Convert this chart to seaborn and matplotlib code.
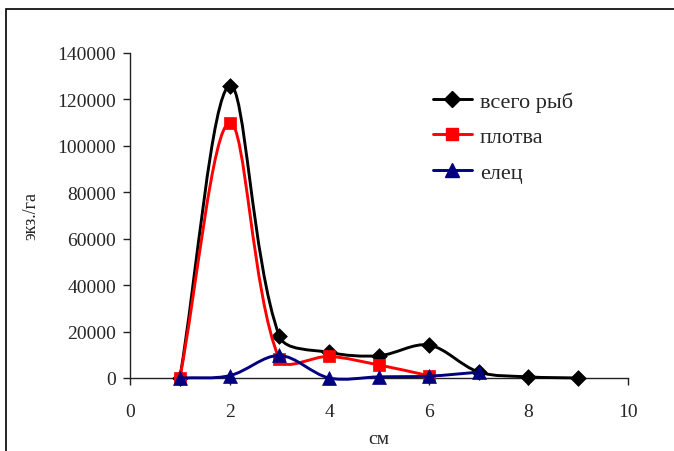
import matplotlib
matplotlib.use("Agg")
import matplotlib.pyplot as plt
from matplotlib.path import Path
from matplotlib.patches import PathPatch, Rectangle
from matplotlib.lines import Line2D
import seaborn as sns
import numpy as np

# size classes, cm
x_total = [1, 2, 3, 4, 5, 6, 7, 8, 9]
total = [0, 126000, 18000, 11000, 9600, 14200, 2600, 500, 0]     # всего рыб

x_roach = [1, 2, 3, 4, 5, 6]
roach = [0, 110000, 8000, 9300, 5600, 1000]                      # плотва

x_dace = [1, 2, 3, 4, 5, 6, 7]
dace = [0, 1000, 9700, 0, 500, 800, 2500]                        # елец

labels = ["всего рыб", "плотва", "елец"]
colors = ["#000000", "#ff0000", "#000080"]
markers = ["D", "s", "^"]

XMAX, YMAX = 10, 140000
AX_W, AX_H = 498, 325   # axes size in px, used to smooth in screen space


def smooth_path(x, y):
    # excel-like smoothed line: cubic bezier, tangents scaled by segment length
    pts = np.column_stack([np.asarray(x) / XMAX * AX_W,
                           np.asarray(y) / YMAX * AX_H]).astype(float)
    n = len(pts)
    d = [np.linalg.norm(pts[i + 1] - pts[i]) for i in range(n - 1)]
    verts = [pts[0]]
    codes = [Path.MOVETO]
    for i in range(n - 1):
        p1, p2 = pts[i], pts[i + 1]
        if i > 0:
            c1 = p1 + (p2 - pts[i - 1]) * d[i] / (d[i - 1] + d[i]) / 3
        else:
            c1 = p1 + (p2 - p1) / 3
        if i + 2 < n:
            c2 = p2 - (pts[i + 2] - p1) * d[i] / (d[i] + d[i + 1]) / 3
        else:
            c2 = p2 - (p2 - p1) / 3
        verts += [c1, c2, p2]
        codes += [Path.CURVE4] * 3
    v = np.array(verts)
    v[:, 0] *= XMAX / AX_W
    v[:, 1] *= YMAX / AX_H
    return Path(v, codes)


sns.set_style("ticks")
plt.rcParams["font.family"] = ["Liberation Serif", "DejaVu Serif"]

fig = plt.figure(figsize=(6.74, 4.52), dpi=100)
ax = fig.add_axes([130 / 674, 1 - 379 / 452, AX_W / 674, AX_H / 452])

series = [(x_total, total), (x_roach, roach), (x_dace, dace)]
sizes = [8, 9, 10]
for k, (xs, ys) in enumerate(series):
    ax.add_patch(PathPatch(smooth_path(xs, ys), facecolor="none",
                           edgecolor=colors[k], lw=2.1, zorder=3 + k,
                           clip_on=False))
    sns.scatterplot(x=xs, y=ys, ax=ax, marker=markers[k], s=sizes[k] ** 2,
                    color=colors[k], edgecolor=colors[k], linewidth=0.5,
                    zorder=3.5 + k, clip_on=False, legend=False)

ax.set_xlim(0, XMAX)
ax.set_ylim(0, YMAX)
ax.set_xticks(range(0, 11, 2))
ax.set_yticks(range(0, 140001, 20000))
ax.tick_params(axis="both", labelsize=14, direction="out", length=5,
               width=1, color="#222222", pad=5)
ax.tick_params(axis="x", pad=13)
sns.despine(ax=ax)
for s in ("left", "bottom"):
    ax.spines[s].set_color("#222222")
    ax.spines[s].set_linewidth(1)

ax.set_xlabel("см", fontsize=14, labelpad=7)
ax.set_ylabel("экз./га", fontsize=13, labelpad=13)

handles = [Line2D([0], [0], color=colors[k], lw=2.1, marker=markers[k],
                  markersize=sizes[k]) for k in range(3)]
fig.legend(handles, labels, loc="upper left",
           bbox_to_anchor=(413 / 674, 1 - 72 / 452), frameon=False,
           fontsize=16, handlelength=1.75, handletextpad=0.36,
           labelspacing=0.68)

# outer frame like the pasted excel chart
fig.patches.append(Rectangle((6 / 674, -0.2), 1.2, 1 - 10 / 452 + 0.2,
                             transform=fig.transFigure, fill=False,
                             edgecolor="#000000", lw=1.2))

fig.savefig("out.png", dpi=100)
